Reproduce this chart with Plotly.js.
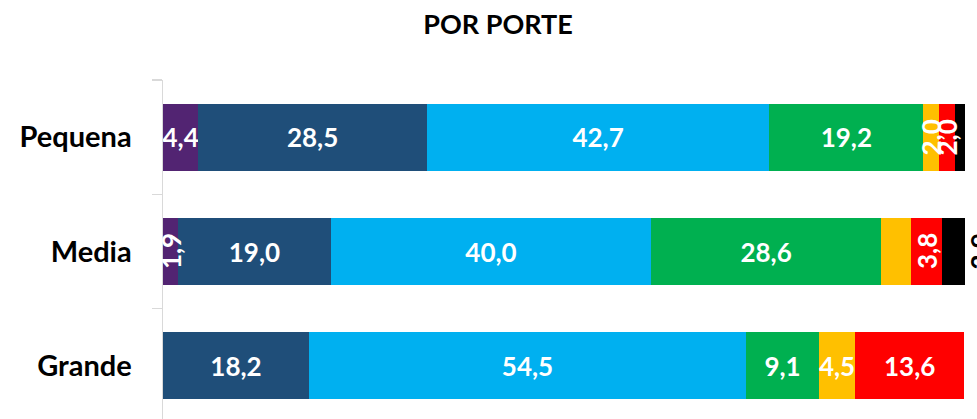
<!DOCTYPE html>
<html>
<head>
<meta charset="utf-8">
<script src="https://cdn.plot.ly/plotly-3.0.1.min.js"></script>
<style>
  html, body { margin: 0; padding: 0; overflow: hidden; background: #fff; }
  #chart { width: 977px; height: 423px; }
</style>
</head>
<body>
<div id="chart"></div>
<script>
// ---- data ----
const categories = ['Pequena', 'Media', 'Grande'];
const seriesNames = ['Série 1', 'Série 2', 'Série 3', 'Série 4', 'Série 5', 'Série 6', 'Série 7'];
const purpleValues    = [4.4, 1.9, 0];
const darkBlueValues  = [28.5, 19.0, 18.2];
const lightBlueValues = [42.7, 40.0, 54.5];
const greenValues     = [19.2, 28.6, 9.1];
const yellowValues    = [2.0, 3.8, 4.5];
const redValues       = [2.0, 3.8, 13.6];
const blackValues     = [1.2, 2.9, 0];

// label modes: h = horizontal inside, v = rotated inside, o = rotated outside (dark), '' = none
const purpleModes    = ['h', 'v', ''];
const darkBlueModes  = ['h', 'h', 'h'];
const lightBlueModes = ['h', 'h', 'h'];
const greenModes     = ['h', 'h', 'h'];
const yellowModes    = ['v', '', 'h'];
const redModes       = ['v', 'v', 'h'];
const blackModes     = ['', 'o', ''];

const seriesValues = [purpleValues, darkBlueValues, lightBlueValues, greenValues, yellowValues, redValues, blackValues];
const seriesModes = [purpleModes, darkBlueModes, lightBlueModes, greenModes, yellowModes, redModes, blackModes];
const colors = ['#522472', '#1F4E79', '#00B0F0', '#00B050', '#FFC000', '#FF0000', '#000000'];

const fmt = v => v.toFixed(1).replace('.', ',');
const FONT = 'Lato, "Open Sans", sans-serif';

const traces = [];
const annotations = [];
const cum = categories.map(() => 0);

seriesValues.forEach((vals, si) => {
  const modes = seriesModes[si];
  traces.push({
    type: 'bar',
    orientation: 'h',
    name: seriesNames[si],
    y: categories,
    x: vals,
    marker: { color: colors[si], line: { width: 0 } },
    text: vals.map((v, i) => modes[i] === 'h' ? fmt(v) : ''),
    textposition: 'inside',
    insidetextanchor: 'middle',
    textangle: 0,
    constraintext: 'none',
    cliponaxis: false,
    insidetextfont: { family: FONT, size: 26, color: '#ffffff', weight: 'bold' },
    hoverinfo: 'skip',
    showlegend: false
  });
  vals.forEach((v, i) => {
    const m = modes[i];
    if (m === 'v') {
      annotations.push({
        x: cum[i] + v / 2, y: categories[i], xref: 'x', yref: 'y',
        text: fmt(v), showarrow: false, textangle: -90,
        font: { family: FONT, size: 26, color: '#ffffff', weight: 'bold' },
        xanchor: 'center', yanchor: 'middle'
      });
    } else if (m === 'o') {
      annotations.push({
        x: cum[i] + v, y: categories[i], xref: 'x', yref: 'y',
        text: fmt(v), showarrow: false, textangle: -90,
        font: { family: FONT, size: 26, color: '#000000', weight: 'bold' },
        xanchor: 'left', yanchor: 'middle', xshift: -4
      });
    }
    cum[i] += v;
  });
});

const layout = {
  width: 977,
  height: 423,
  margin: { l: 163, r: 12, t: 80, b: 0, pad: 0 },
  paper_bgcolor: '#ffffff',
  plot_bgcolor: '#ffffff',
  barmode: 'stack',
  bargap: 0.415,
  hovermode: false,
  title: {
    text: 'POR PORTE',
    font: { family: FONT, size: 27, color: '#000000', weight: 'bold' },
    xref: 'container', x: 498 / 977, xanchor: 'center',
    yref: 'container', y: 1 - 25 / 423, yanchor: 'middle'
  },
  xaxis: {
    range: [0, 100],
    visible: false,
    showgrid: false,
    zeroline: false,
    fixedrange: true
  },
  yaxis: {
    type: 'category',
    autorange: 'reversed',
    showline: true,
    linecolor: '#d9d9d9',
    linewidth: 1.5,
    ticks: 'outside',
    tickson: 'boundaries',
    ticklen: 10,
    tickcolor: '#d9d9d9',
    tickwidth: 1.5,
    ticklabelstandoff: 24,
    showgrid: false,
    zeroline: false,
    tickfont: { family: FONT, size: 29, color: '#000000', weight: 'bold' },
    fixedrange: true
  },
  annotations: annotations
};

Plotly.newPlot('chart', traces, layout, { displayModeBar: false, staticPlot: true });
</script>
</body>
</html>
